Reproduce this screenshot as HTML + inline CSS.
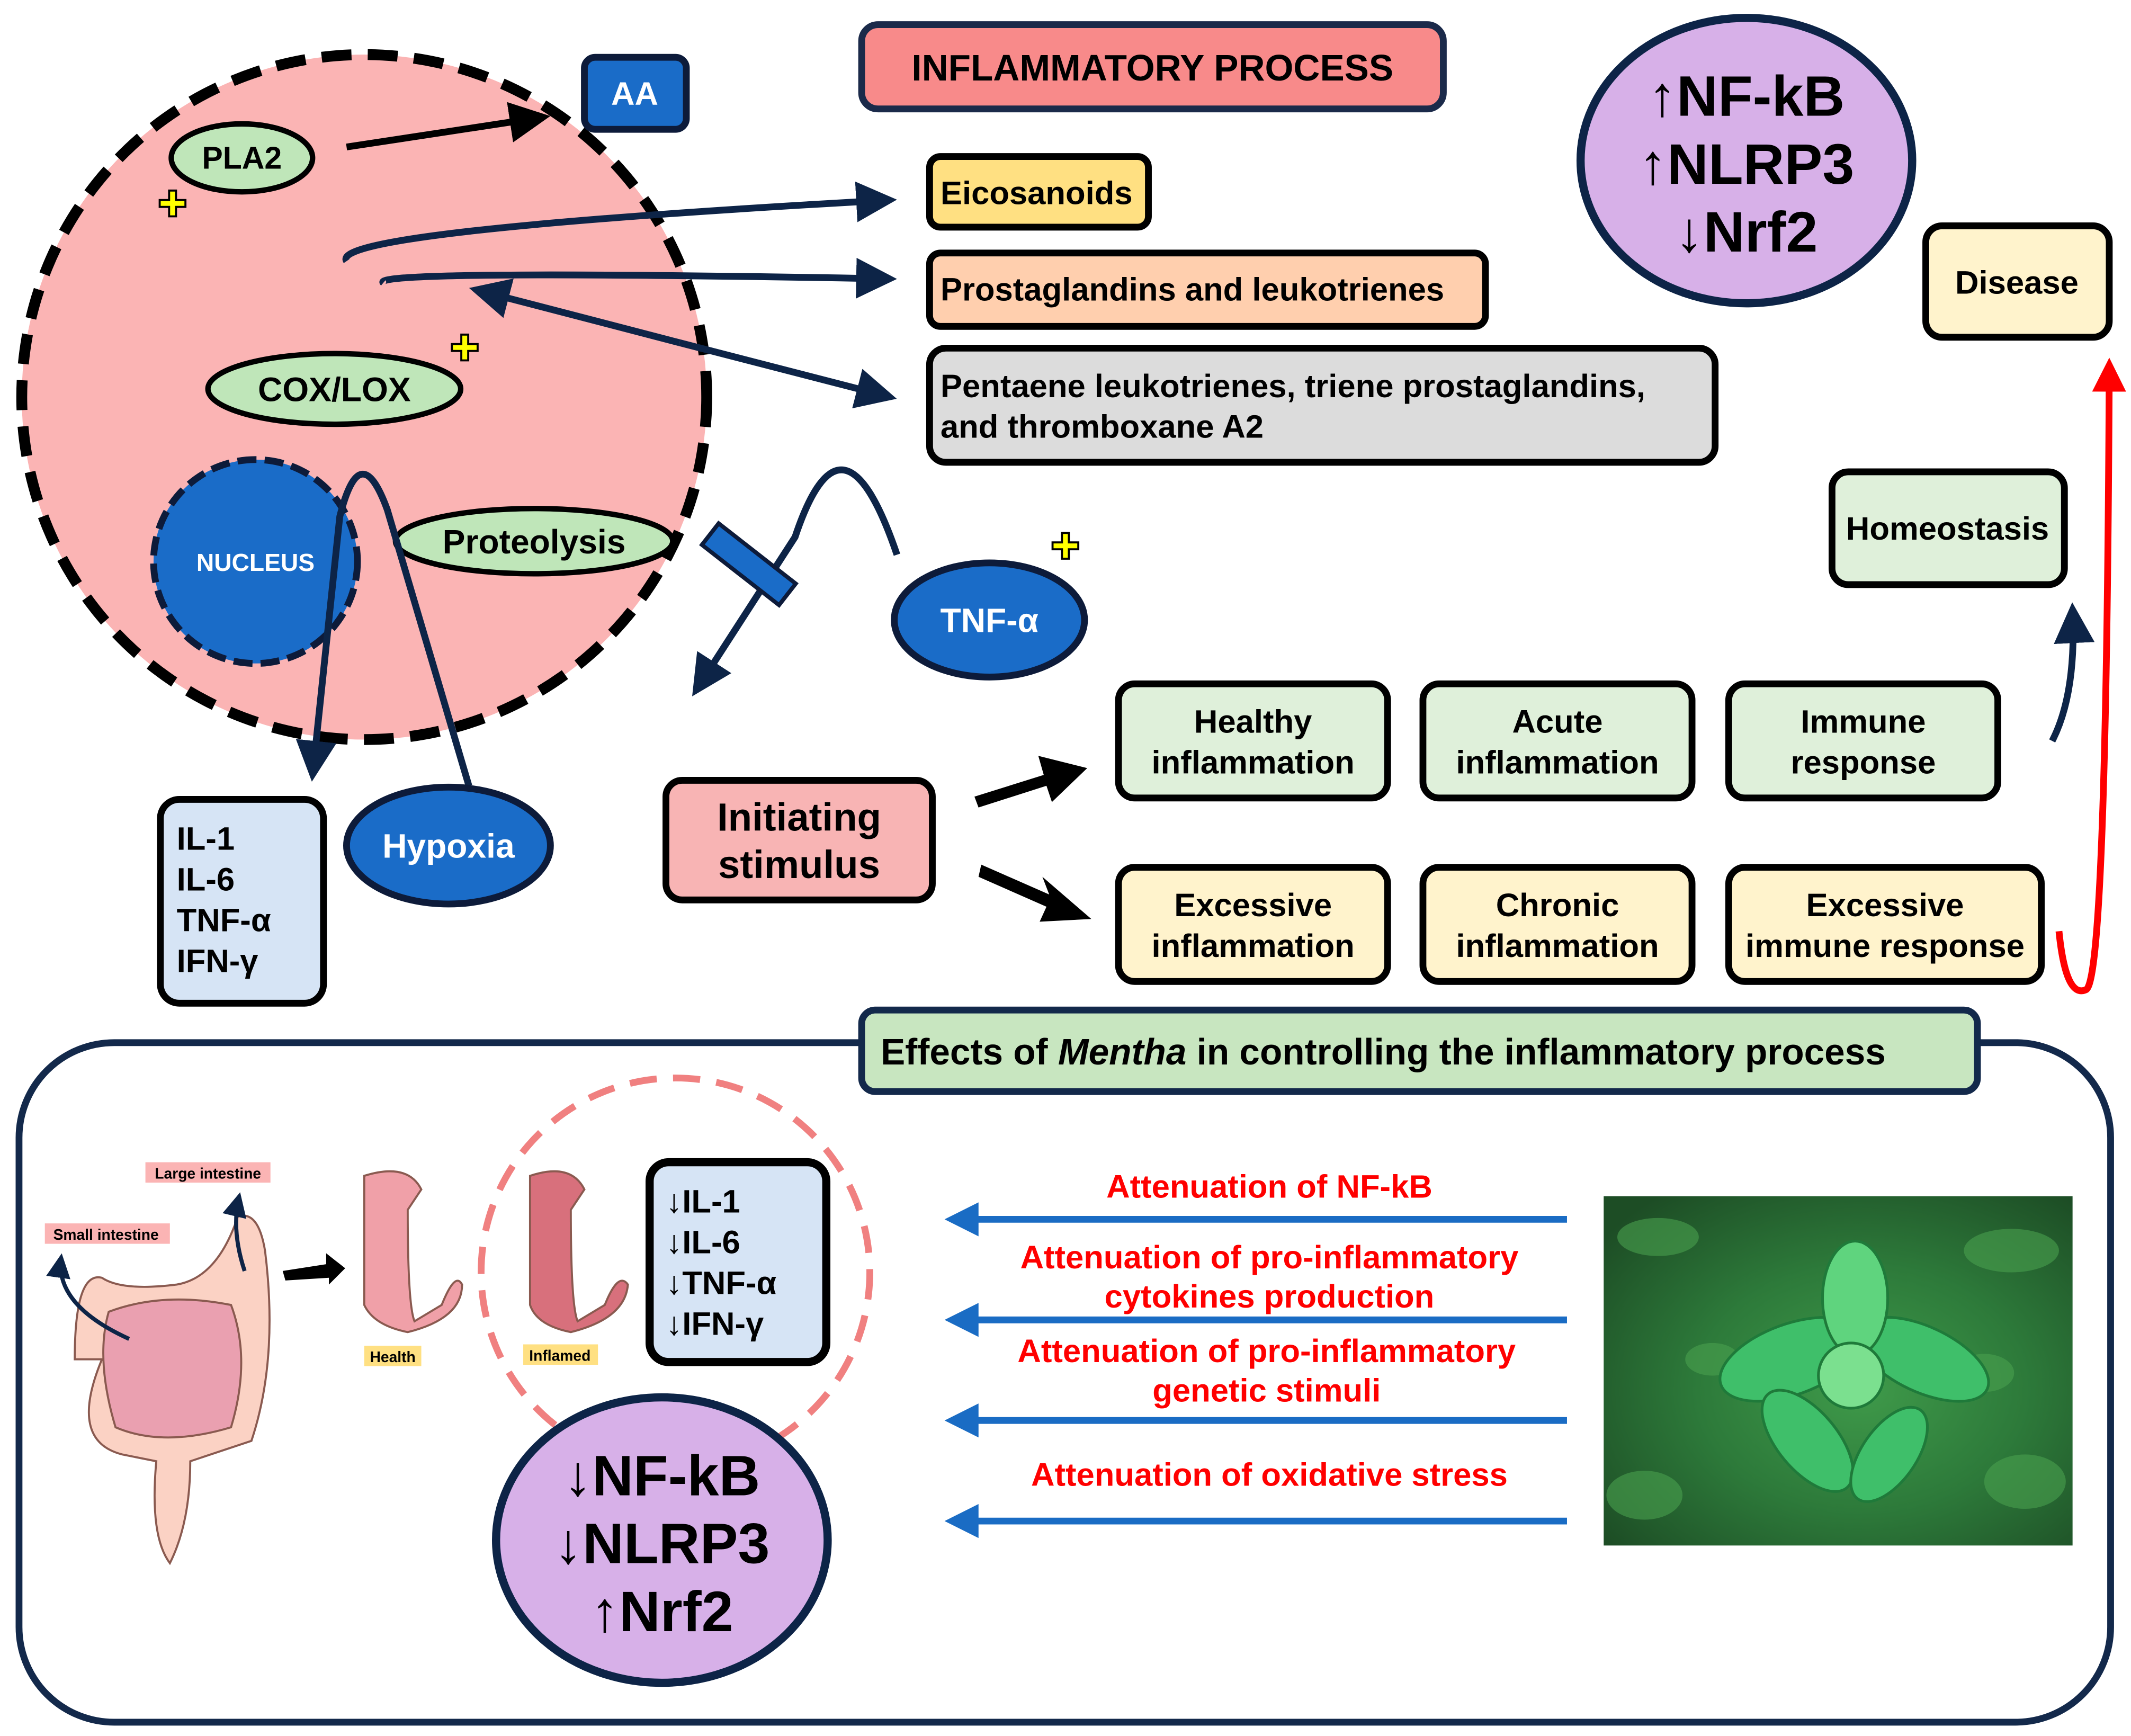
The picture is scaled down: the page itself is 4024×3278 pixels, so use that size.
<!DOCTYPE html>
<html><head><meta charset="utf-8"><style>
html,body{margin:0;padding:0;background:#fff}
svg{display:block}
text{font-family:"Liberation Sans","DejaVu Sans",sans-serif;font-weight:bold}
</style></head><body>
<svg width="4024" height="3278" viewBox="0 0 1568 1277" xmlns="http://www.w3.org/2000/svg">
<defs>
<marker id="ab" markerWidth="6" markerHeight="6" refX="5" refY="3" orient="auto" markerUnits="strokeWidth"><path d="M0,0 L6,3 L0,6 z" fill="#0d2447"/></marker>
<marker id="ak" markerWidth="6" markerHeight="6" refX="5" refY="3" orient="auto" markerUnits="strokeWidth"><path d="M0,0 L6,3 L0,6 z" fill="#000"/></marker>
<marker id="ar" markerWidth="5" markerHeight="5" refX="4" refY="2.5" orient="auto" markerUnits="strokeWidth"><path d="M0,0 L5,2.5 L0,5 z" fill="#f00"/></marker>
<marker id="al" markerWidth="5" markerHeight="5" refX="4" refY="2.5" orient="auto" markerUnits="strokeWidth"><path d="M0,0 L5,2.5 L0,5 z" fill="#1a6cc4"/></marker>
<radialGradient id="mint" cx="0.55" cy="0.55" r="0.7"><stop offset="0" stop-color="#3f9a4a"/><stop offset="0.5" stop-color="#2d7a3a"/><stop offset="1" stop-color="#1d4d25"/></radialGradient>
</defs>

<circle cx="268" cy="292" r="252" fill="#fbb4b4" stroke="#000" stroke-width="8" stroke-dasharray="22 12"/>
<rect x="430" y="42" width="75" height="53" rx="8" fill="#1a6cc8" stroke="#0d1b3a" stroke-width="5"/>
<text x="467" y="77" font-size="24" fill="#fff" text-anchor="middle">AA</text>
<ellipse cx="178" cy="116" rx="52" ry="25" fill="#bfe6b9" stroke="#000" stroke-width="4"/>
<text x="178" y="124" font-size="23" text-anchor="middle">PLA2</text>
<line x1="255" y1="108" x2="400" y2="86" stroke="#000" stroke-width="5" marker-end="url(#ak)"/>
<ellipse cx="246" cy="286" rx="93" ry="26" fill="#bfe6b9" stroke="#000" stroke-width="4"/>
<text x="246" y="295" font-size="25" text-anchor="middle">COX/LOX</text>
<ellipse cx="393" cy="398" rx="102" ry="24" fill="#bfe6b9" stroke="#000" stroke-width="4"/>
<text x="393" y="407" font-size="25" text-anchor="middle">Proteolysis</text>
<circle cx="188" cy="413" r="75" fill="#1a6cc8" stroke="#0d1b3a" stroke-width="5" stroke-dasharray="14 6"/>
<text x="188" y="420" font-size="18" fill="#fff" text-anchor="middle">NUCLEUS</text>
<g font-size="26" fill="#ff0" stroke="#000" stroke-width="1.5"><text x="127" y="159" text-anchor="middle">✚</text><text x="342" y="265" text-anchor="middle">✚</text><text x="784" y="411" text-anchor="middle">✚</text></g>

<g fill="none" stroke="#0d2447" stroke-width="5">
<path d="M255,192 Q240,170 655,147" marker-end="url(#ab)"/>
<path d="M282,208 Q270,198 655,205" marker-end="url(#ab)"/>
<path d="M500,252 L655,292" marker-end="url(#ab)"/>
<path d="M500,252 L350,213" marker-end="url(#ab)"/>
<path d="M345,578 L285,375 Q265,320 250,380 L230,570" marker-end="url(#ab)"/>
<path d="M660,408 Q620,290 585,395 L512,508" marker-end="url(#ab)"/>
<path d="M1510,545 Q1528,510 1525,448" marker-end="url(#ab)"/>
</g>
<rect x="515" y="405" width="72" height="20" fill="#1a6cc8" stroke="#0d1b3a" stroke-width="3" transform="rotate(38 551 415)"/>

<ellipse cx="330" cy="622" rx="75" ry="43" fill="#1a6cc8" stroke="#0d1b3a" stroke-width="5"/>
<text x="330" y="631" font-size="25" fill="#fff" text-anchor="middle">Hypoxia</text>
<ellipse cx="728" cy="456" rx="70" ry="42" fill="#1a6cc8" stroke="#0d1b3a" stroke-width="5"/>
<text x="728" y="465" font-size="25" fill="#fff" text-anchor="middle">TNF-α</text>
<rect x="118" y="588" width="120" height="150" rx="14" fill="#d6e4f5" stroke="#000" stroke-width="5"/>
<g font-size="24"><text x="130" y="625">IL-1</text><text x="130" y="655">IL-6</text><text x="130" y="685">TNF-α</text><text x="130" y="715">IFN-γ</text></g>

<rect x="634" y="18" width="428" height="62" rx="12" fill="#f88a8a" stroke="#1b2a4a" stroke-width="5"/>
<text x="848" y="59" font-size="27" text-anchor="middle">INFLAMMATORY PROCESS</text>
<rect x="684" y="115" width="161" height="52" rx="8" fill="#ffe082" stroke="#000" stroke-width="5"/>
<text x="692" y="150" font-size="24">Eicosanoids</text>
<rect x="684" y="186" width="409" height="54" rx="8" fill="#ffcfae" stroke="#000" stroke-width="5"/>
<text x="692" y="221" font-size="24">Prostaglandins and leukotrienes</text>
<rect x="684" y="256" width="578" height="84" rx="12" fill="#dcdcdc" stroke="#000" stroke-width="5"/>
<text x="692" y="292" font-size="24">Pentaene leukotrienes, triene prostaglandins,</text>
<text x="692" y="322" font-size="24">and thromboxane A2</text>
<ellipse cx="1285" cy="118" rx="122" ry="105" fill="#d7b0e8" stroke="#0d2447" stroke-width="6"/>
<g font-size="42" text-anchor="middle"><text x="1285" y="85">↑NF-kB</text><text x="1285" y="135">↑NLRP3</text><text x="1285" y="185">↓Nrf2</text></g>
<rect x="1417" y="166" width="135" height="82" rx="12" fill="#fff3cc" stroke="#000" stroke-width="5"/>
<text x="1484" y="216" font-size="24" text-anchor="middle">Disease</text>
<rect x="1348" y="347" width="171" height="83" rx="12" fill="#dff0da" stroke="#000" stroke-width="5"/>
<text x="1433" y="397" font-size="24" text-anchor="middle">Homeostasis</text>
<path d="M1515,685 Q1520,735 1535,728 Q1550,720 1552,268" fill="none" stroke="#f00" stroke-width="5" marker-end="url(#ar)"/>

<rect x="490" y="574" width="196" height="88" rx="12" fill="#f8b4b4" stroke="#000" stroke-width="5"/>
<text x="588" y="611" font-size="29" text-anchor="middle">Initiating</text>
<text x="588" y="646" font-size="29" text-anchor="middle">stimulus</text>
<path d="M717,586 L768,570 L764,556 L800,565 L774,590 L770,578 L720,594 z" fill="#000"/>
<path d="M722,636 L772,658 L767,645 L803,676 L765,678 L770,667 L720,645 z" fill="#000"/>

<g stroke="#000" stroke-width="5">
<rect x="823" y="503" width="198" height="84" rx="12" fill="#dff0da"/>
<rect x="1047" y="503" width="198" height="84" rx="12" fill="#dff0da"/>
<rect x="1272" y="503" width="198" height="84" rx="12" fill="#dff0da"/>
<rect x="823" y="638" width="198" height="84" rx="12" fill="#fff3cc"/>
<rect x="1047" y="638" width="198" height="84" rx="12" fill="#fff3cc"/>
<rect x="1272" y="638" width="230" height="84" rx="12" fill="#fff3cc"/>
</g>
<g font-size="24" text-anchor="middle">
<text x="922" y="539">Healthy</text><text x="922" y="569">inflammation</text>
<text x="1146" y="539">Acute</text><text x="1146" y="569">inflammation</text>
<text x="1371" y="539">Immune</text><text x="1371" y="569">response</text>
<text x="922" y="674">Excessive</text><text x="922" y="704">inflammation</text>
<text x="1146" y="674">Chronic</text><text x="1146" y="704">inflammation</text>
<text x="1387" y="674">Excessive</text><text x="1387" y="704">immune response</text>
</g>

<rect x="14" y="767" width="1539" height="500" rx="70" fill="none" stroke="#13294b" stroke-width="5"/>
<rect x="634" y="743" width="821" height="60" rx="10" fill="#c8e6c0" stroke="#13294b" stroke-width="5"/>
<text x="648" y="783" font-size="27">Effects of <tspan font-style="italic">Mentha</tspan> in controlling the inflammatory process</text>

<rect x="107" y="855" width="92" height="15" fill="#fbb4b4"/><text x="153" y="867" font-size="11" text-anchor="middle" font-weight="normal">Large intestine</text>
<rect x="33" y="900" width="92" height="15" fill="#fbb4b4"/><text x="78" y="912" font-size="11" text-anchor="middle" font-weight="normal">Small intestine</text>
<path d="M75,1000 Q50,1060 90,1070 L115,1075 Q110,1130 125,1150 Q140,1120 140,1075 L185,1060 Q205,1000 195,920 Q190,890 175,895 Q160,940 130,945 Q90,950 75,940 Q55,935 55,1000 z" fill="#fbd2c4" stroke="#8a5a50" stroke-width="1.5"/>
<path d="M80,965 Q120,950 170,960 Q185,1000 170,1050 Q120,1065 85,1050 Q70,1000 80,965 z" fill="#eaa0b0" stroke="#8a5a50" stroke-width="1.5"/>
<g fill="none" stroke="#0d2447" stroke-width="3"><path d="M95,985 Q40,960 45,925" marker-end="url(#ab)"/><path d="M180,935 Q170,905 176,880" marker-end="url(#ab)"/></g>
<path d="M208,935 L240,930 L240,922 L254,933 L242,945 L242,940 L210,942 z" fill="#000"/>
<path d="M268,865 Q300,855 310,875 L300,890 Q300,960 305,972 L325,960 Q335,935 340,945 Q340,970 300,980 Q275,975 268,960 z" fill="#f0a0a8" stroke="#8a5a50" stroke-width="1.5"/>
<path d="M390,865 Q420,855 430,875 L420,890 Q420,960 425,972 L445,960 Q455,935 462,945 Q460,970 420,980 Q395,975 390,960 z" fill="#d8707c" stroke="#8a5a50" stroke-width="1.5"/>
<rect x="268" y="990" width="42" height="15" fill="#ffe082"/><text x="289" y="1002" font-size="11" text-anchor="middle" font-weight="normal">Health</text>
<rect x="385" y="989" width="55" height="15" fill="#ffe082"/><text x="412" y="1001" font-size="11" text-anchor="middle" font-weight="normal">Inflamed</text>
<circle cx="497" cy="936" r="143" fill="none" stroke="#f08080" stroke-width="5" stroke-dasharray="20 12"/>
<rect x="478" y="855" width="130" height="147" rx="14" fill="#d6e4f5" stroke="#000" stroke-width="6"/>
<g font-size="24"><text x="490" y="892">↓IL-1</text><text x="490" y="922">↓IL-6</text><text x="490" y="952">↓TNF-α</text><text x="490" y="982">↓IFN-γ</text></g>
<ellipse cx="487" cy="1133" rx="122" ry="105" fill="#d7b0e8" stroke="#0d2447" stroke-width="6"/>
<g font-size="42" text-anchor="middle"><text x="487" y="1100">↓NF-kB</text><text x="487" y="1150">↓NLRP3</text><text x="487" y="1200">↑Nrf2</text></g>

<g stroke="#1a6cc4" stroke-width="5" marker-end="url(#al)">
<line x1="1153" y1="897" x2="700" y2="897"/><line x1="1153" y1="971" x2="700" y2="971"/>
<line x1="1153" y1="1045" x2="700" y2="1045"/><line x1="1153" y1="1119" x2="700" y2="1119"/>
</g>
<g font-size="24" fill="#f00" text-anchor="middle">
<text x="934" y="881">Attenuation of NF-kB</text>
<text x="934" y="933">Attenuation of pro-inflammatory</text><text x="934" y="962">cytokines production</text>
<text x="932" y="1002">Attenuation of pro-inflammatory</text><text x="932" y="1031">genetic stimuli</text>
<text x="934" y="1093">Attenuation of oxidative stress</text>
</g>

<rect x="1180" y="880" width="345" height="257" fill="url(#mint)"/>
<g fill="#4aa04e" opacity="0.6">
<ellipse cx="1220" cy="910" rx="30" ry="14"/><ellipse cx="1480" cy="920" rx="35" ry="16"/><ellipse cx="1210" cy="1100" rx="28" ry="18"/>
<ellipse cx="1490" cy="1090" rx="30" ry="20"/><ellipse cx="1260" cy="1000" rx="20" ry="12"/><ellipse cx="1460" cy="1010" rx="22" ry="14"/>
</g>
<g fill="#3fbf6a" stroke="#1f7a3a" stroke-width="2">
<ellipse cx="1318" cy="1000" rx="55" ry="26" transform="rotate(-20 1318 1000)"/>
<ellipse cx="1415" cy="1000" rx="52" ry="24" transform="rotate(25 1415 1000)"/>
<ellipse cx="1330" cy="1060" rx="45" ry="22" transform="rotate(50 1330 1060)"/>
<ellipse cx="1390" cy="1070" rx="40" ry="20" transform="rotate(-55 1390 1070)"/>
<ellipse cx="1365" cy="955" rx="24" ry="42" fill="#5fd47e"/>
<ellipse cx="1362" cy="1012" rx="24" ry="24" fill="#7be08f"/>
</g>
</svg>
</body></html>
